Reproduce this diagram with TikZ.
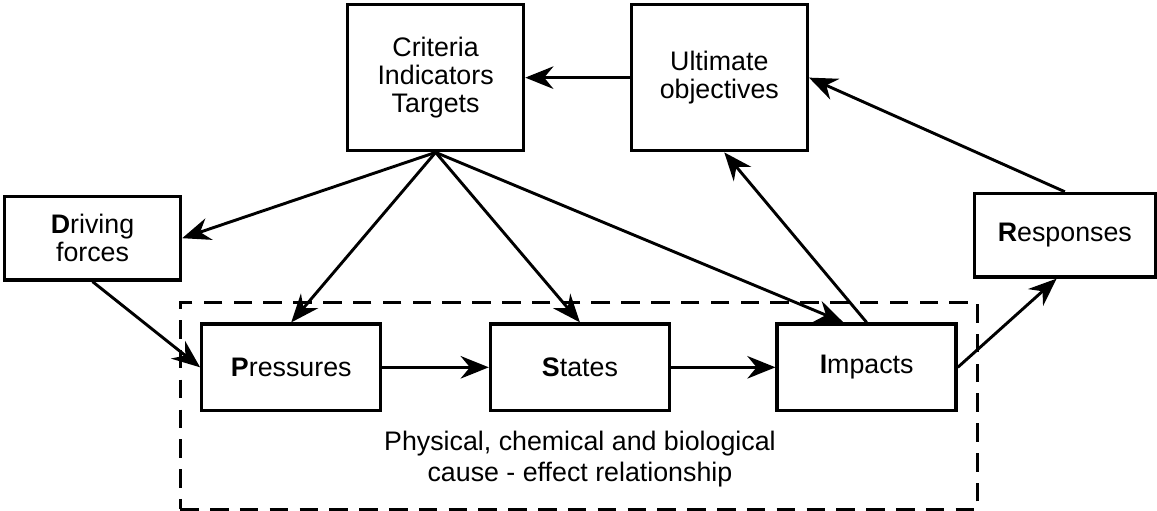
\documentclass[tikz,border=0pt]{standalone}
\usepackage{fontspec}
\setmainfont{Liberation Sans}
\usetikzlibrary{arrows.meta,positioning,fit,calc}

\begin{document}
\begin{tikzpicture}[
    node distance=1cm and 3.2cm,
    box/.style={rectangle, draw=black, line width=2.9pt, align=center, minimum width=5.31cm, font=\fontsize{23}{24.3}\selectfont},
    tall/.style={box, minimum height=4.41cm},
    flat/.style={box, minimum height=2.52cm},
    chain/.style={box, minimum width=5.4cm, minimum height=2.61cm},
    frame/.style={draw=black, line width=2.7pt, dash pattern=on 0.56cm off 0.34cm, inner sep=0.6cm},
    arrow/.style={-{Stealth[length=0.85cm, width=0.68cm, inset=0.28cm]}, line width=2.5pt},
]

% Cause - effect chain
\node[chain] (pres) {\textbf{P}ressures};
\node[chain, right=3.21cm of pres] (stat) {\textbf{S}tates};
\node[chain, right=3.15cm of stat] (imp) {\textbf{I}mpacts};

% Top row
\coordinate (mid) at ($(pres.north)!0.5!(stat.north)$);
\node[tall, above=5.13cm of mid] (crit) {Criteria\\Indicators\\Targets};
\node[tall, right=3.15cm of crit] (ult) {Ultimate\\objectives};

% Side boxes
\node[flat, above left=1.23cm and 0.54cm of pres] (drive) {\textbf{D}riving\\forces};
\node[flat, minimum width=5.46cm, above right=1.32cm and 0.45cm of imp] (resp) {\textbf{R}esponses};

% Caption and dashed frame
\node[below=0.55cm of stat, align=center, inner sep=0pt, font=\fontsize{23}{27}\selectfont] (cause) {Physical, chemical and biological\\cause - effect relationship};
\coordinate[below=0.06cm of cause] (low);
\node[frame, fit=(pres)(imp)(cause)(low)] (chainbox) {};

\useasboundingbox (-8.79,-4.275) rectangle (25.92,11.085);

% Arrows from the top row
\draw[arrow] (ult) -- (crit);
\draw[arrow] (crit.south) -- (drive.east);
\draw[arrow] (crit.south) -- (pres.north);
\draw[arrow] (crit.south) -- (stat.north);
\draw[arrow] (crit.south) -- ([xshift=-0.7cm]imp.north);
\draw[arrow] (imp.north) -- ([xshift=0.15cm]ult.south);
\draw[arrow] (resp.north) -- (ult.east);

% Arrows along the chain
\draw[arrow] (drive.south) -- (pres.west);
\draw[arrow] (pres) -- (stat);
\draw[arrow] (stat) -- (imp);
\draw[arrow] (imp.east) -- ([xshift=-0.25cm]resp.south);

\end{tikzpicture}
\end{document}
